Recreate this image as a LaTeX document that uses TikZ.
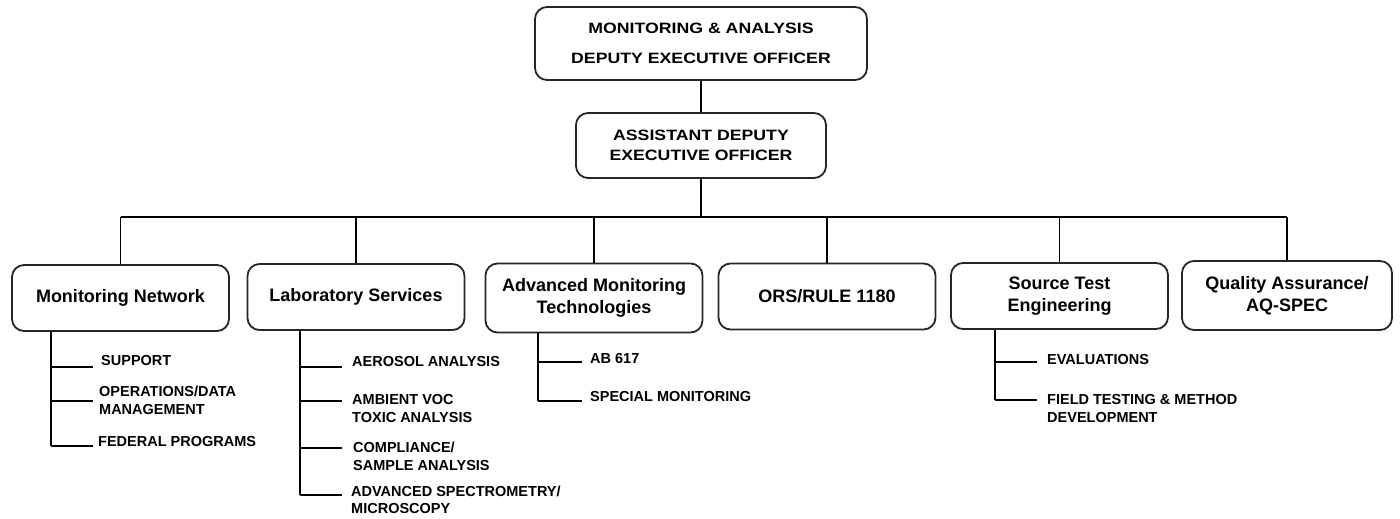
\documentclass[tikz,border=0pt]{standalone}
\usepackage{fontspec}
\setmainfont{Liberation Sans}
\newfontfamily\widesans{Liberation Sans}[FakeStretch=1.18]
\usetikzlibrary{positioning,calc}

\tikzset{
  office/.style={draw=black!85, line width=1.8pt, rounded corners=12pt, align=center,
    font=\widesans\bfseries\fontsize{15}{20}\selectfont},
  unit/.style={draw=black!85, line width=1.8pt, rounded corners=12pt, align=center,
    minimum width=217pt, minimum height=66pt, inner sep=2pt,
    font=\bfseries\fontsize{18}{21.5}\selectfont},
  sub/.style={anchor=west, align=left, inner sep=0pt,
    font=\bfseries\fontsize{14.5}{17.5}\selectfont},
  link/.style={line width=1.6pt}
}

\begin{document}
\begin{tikzpicture}[x=1pt,y=-1pt]
  \useasboundingbox (0,0) rectangle (1400,519);

  % top of the chart
  \node [office, minimum width=332pt, minimum height=73pt] (mado) at (701,43.5)
    {MONITORING \& ANALYSIS\\[10pt] DEPUTY EXECUTIVE OFFICER};
  \node [office, minimum width=250pt, minimum height=65pt] (adeo) at (701,145.5)
    {ASSISTANT DEPUTY\\ EXECUTIVE OFFICER};
  \coordinate (bus) at (701,217);

  % units
  \node [unit] (mn) at (120.5,298) {Monitoring Network};
  \node [unit] (lab) at (356,297) {Laboratory Services};
  \node [unit, minimum height=69pt] (amt) at (594,298) {Advanced Monitoring\\ Technologies};
  \node [unit] (ors) at (827,296.5) {ORS/RULE 1180};
  \node [unit] (ste) at (1059.5,296) {Source Test\\ Engineering};
  \node [unit, minimum width=210pt, minimum height=69pt] (qa) at (1287,295.5) {Quality Assurance/\\ AQ-SPEC};

  \draw [link] (mado) -- (adeo);
  \draw [link] (adeo) -- (bus);
  \draw [link] (mn.north |- bus) -- (qa.north |- bus);
  \foreach \u in {mn,lab,amt,ors,ste,qa}
    \draw [link] (\u.north |- bus) -- (\u.north);

  % Monitoring Network sections
  \coordinate (mnt) at (51,446);
  \coordinate (mn1e) at (93,367);
  \coordinate (mn2e) at (93,401);
  \coordinate (mn3e) at (93,446);
  \node [sub] (mn1) at (101,361) {SUPPORT};
  \node [sub] (mn2) at (99,400.5) {OPERATIONS/DATA\\ MANAGEMENT};
  \node [sub] (mn3) at (98,442) {FEDERAL PROGRAMS};
  \draw [link] (mn.south -| mnt) -- (mnt);
  \foreach \e in {mn1e,mn2e,mn3e}
    \draw [link] (mnt |- \e) -- (\e);

  % Laboratory Services sections
  \coordinate (labt) at (300,495);
  \coordinate (lab1e) at (342,367);
  \coordinate (lab2e) at (342,401);
  \coordinate (lab3e) at (342,448);
  \coordinate (lab4e) at (342,495);
  \node [sub] (lab1) at (352,362) {AEROSOL ANALYSIS};
  \node [sub] (lab2) at (352,408.5) {AMBIENT VOC\\ TOXIC ANALYSIS};
  \node [sub] (lab3) at (353,456.5) {COMPLIANCE/\\ SAMPLE ANALYSIS};
  \node [sub] (lab4) at (351,500) {ADVANCED SPECTROMETRY/\\ MICROSCOPY};
  \draw [link] (lab.south -| labt) -- (labt);
  \foreach \e in {lab1e,lab2e,lab3e,lab4e}
    \draw [link] (labt |- \e) -- (\e);

  % Advanced Monitoring Technologies sections
  \coordinate (amtt) at (538,401);
  \coordinate (amt1e) at (582,362);
  \coordinate (amt2e) at (582,401);
  \node [sub] (amt1) at (590,359) {AB 617};
  \node [sub] (amt2) at (590,397) {SPECIAL MONITORING};
  \draw [link] (amt.south -| amtt) -- (amtt);
  \foreach \e in {amt1e,amt2e}
    \draw [link] (amtt |- \e) -- (\e);

  % Source Test Engineering sections
  \coordinate (stet) at (995,400);
  \coordinate (ste1e) at (1037,362);
  \coordinate (ste2e) at (1037,400);
  \node [sub] (ste1) at (1047,360) {EVALUATIONS};
  \node [sub] (ste2) at (1047,408.5) {FIELD TESTING \& METHOD\\ DEVELOPMENT};
  \draw [link] (ste.south -| stet) -- (stet);
  \foreach \e in {ste1e,ste2e}
    \draw [link] (stet |- \e) -- (\e);
\end{tikzpicture}
\end{document}
